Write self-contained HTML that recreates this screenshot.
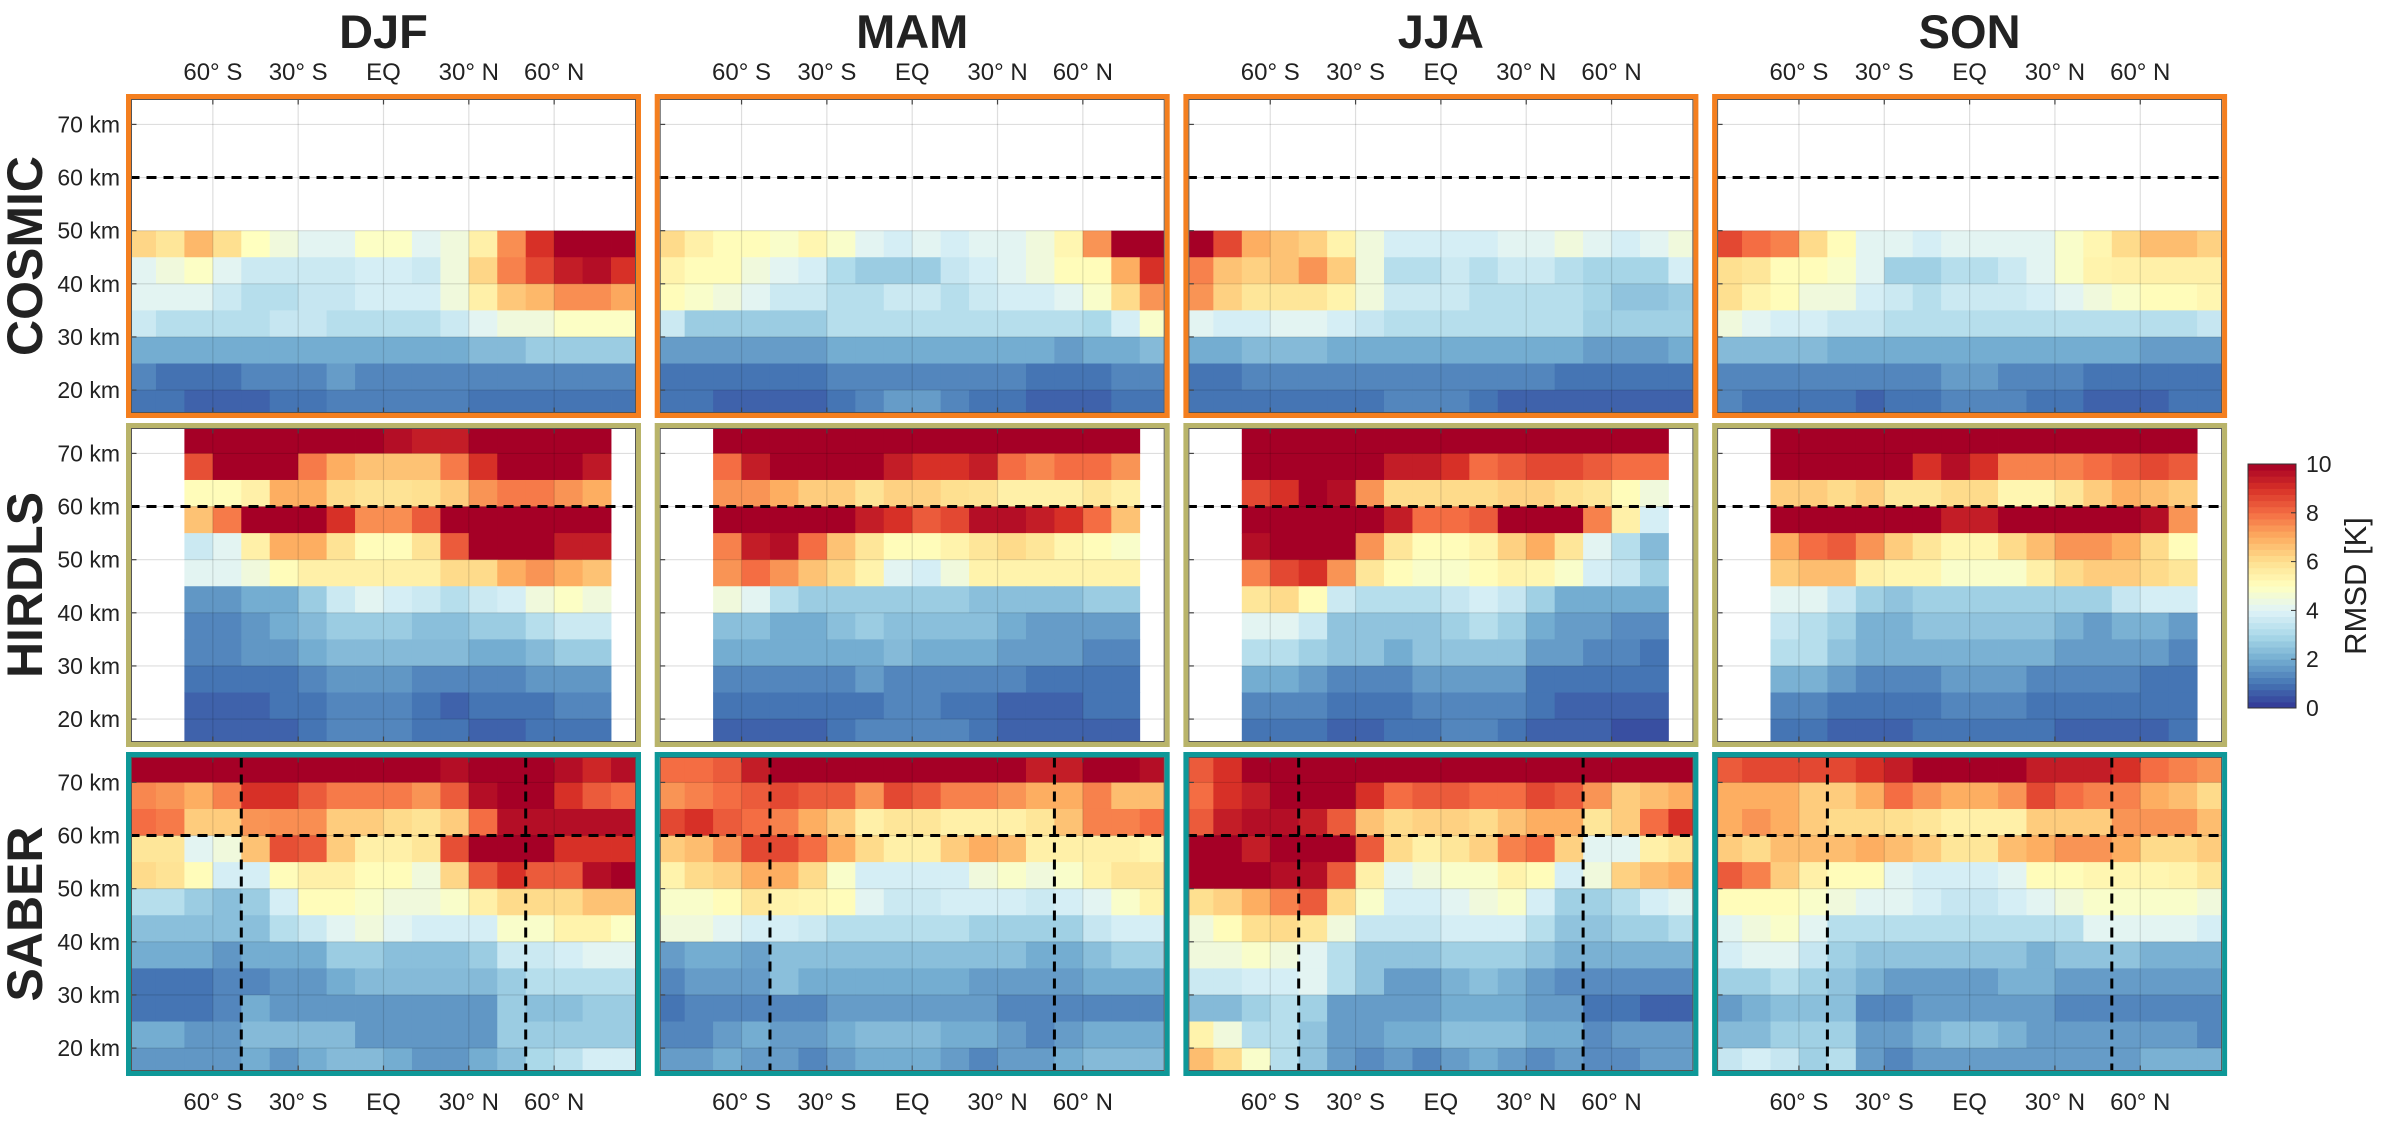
<!DOCTYPE html>
<html><head><meta charset="utf-8"><style>
html,body{margin:0;padding:0;background:#fff;}
svg{display:block;font-family:"Liberation Sans",Arial,sans-serif;}
</style></head><body>
<svg id="fig" width="2386" height="1122" viewBox="0 0 2386 1122" xmlns="http://www.w3.org/2000/svg"></svg>
<script>
const n = null;
const seasons = ["DJF","MAM","JJA","SON"];
const instruments = ["COSMIC","HIRDLS","SABER"];
const latEdges = [-90,-80,-70,-60,-50,-40,-30,-20,-10,0,10,20,30,40,50,60,70,80,90];
const latTicks = [-60,-30,0,30,60];
const latTickLabels = ["60° S","30° S","EQ","30° N","60° N"];
const altTicks = [20,30,40,50,60,70];
const altTickLabels = ["20 km","30 km","40 km","50 km","60 km","70 km"];
const cbTicks = [0,2,4,6,8,10];
const cosmicAltTops = [50,45,40,35,30,25,20];
const fullAltTops = [75,70,65,60,55,50,45,40,35,30,25,20];

const cosmicDJF = [
[6.2,5.8,6.8,6,5,4.5,4.1,4.1,4.9,4.9,4.1,4.5,5.5,7.5,9,10,10,10],
[4.1,4.5,4.9,4.1,3.6,3.6,3.6,3.6,3.8,3.8,3.6,4.5,6.2,7.7,8.6,9.4,9.7,9],
[4.1,4.1,4.1,3.6,3.2,3.2,3.5,3.5,3.8,3.8,3.8,4.5,5.5,6.5,6.8,7.5,7.5,7.1],
[3.6,3.2,3.2,3.2,3.2,3.5,3.5,3.2,3.2,3.2,3.2,3.6,4.1,4.5,4.5,4.9,4.9,4.9],
[2,2,2,2,2,2,2,2,2,2,2,2,2.3,2.3,2.7,2.7,2.7,2.7],
[1.3,0.95,0.95,0.95,1.3,1.3,1.3,1.7,1.3,1.3,1.3,1.3,1.3,1.3,1.3,1.3,1.3,1.3],
[1,1,0.7,0.7,0.7,1,1,1.2,1.2,1.2,1.2,1.2,1,1,1,1,1,1]];
const hirdlsDJF = [
[n,n,10,10,10,10,10,10,10,9.7,9.4,9.4,10,10,10,10,10,n],
[n,n,8.5,10,10,10,7.8,7,6.6,6.6,6.6,7.8,9,10,10,10,9.5,n],
[n,n,5.1,5.1,5.5,7,7,6.1,5.9,5.9,6,6.4,7.4,7.8,7.8,7.4,7,n],
[n,n,6.6,7.8,10,10,10,9,7.5,7.5,8.3,10,10,10,10,10,10,n],
[n,n,3.6,4.1,5.5,7,7,5.9,5.1,5.1,5.9,8.3,10,10,10,9.4,9.4,n],
[n,n,4.1,4.1,4.5,5.1,5.5,5.5,5.5,5.5,5.5,6.1,6.1,7,7.4,7,6.6,n],
[n,n,1.6,1.6,2,2,2.7,3.6,4.1,3.8,3.6,3.2,3.6,3.8,4.5,4.9,4.5,n],
[n,n,1.3,1.3,1.6,2,2.3,2.7,2.7,2.7,2.4,2.4,2.7,2.7,3.2,3.6,3.6,n],
[n,n,1.3,1.3,1.6,1.6,2,2.3,2.3,2.3,2.3,2.3,2,2,2.3,2.7,2.7,n],
[n,n,1,1,1,1,1.3,1.6,1.6,1.6,1.3,1.3,1.3,1.3,1.6,1.6,1.6,n],
[n,n,0.7,0.7,0.7,1,1,1.3,1.3,1.3,1,0.7,1,1,1,1.3,1.3,n],
[n,n,0.7,0.7,0.7,0.7,1,1.3,1.3,1.3,1,1,0.7,0.7,1,1,1,n]];
const saberDJF = [
[10,10,10,10,10,10,10,10,10,10,10,9.7,10,10,10,9.7,9.2,9.7],
[7.6,7.4,7,7.7,9,9,8.3,7.8,7.8,7.8,7.4,8.3,9.7,10,10,9,8.3,8],
[8,7.8,6.4,6.4,7.4,7.5,7.5,6.4,6.4,6.1,5.9,6.4,8,9.7,9.7,9.7,9.7,9.7],
[5.8,5.8,4.1,4.5,6.6,8.5,8.3,6.4,5.5,5.5,5.8,8.5,10,10,10,9,9,9],
[6.1,5.9,5.1,3.8,3.8,5.1,5.5,5.5,5.1,5.1,4.5,6.2,8.3,9,8.3,8.3,9.7,10],
[3.2,3.2,2.7,2.4,2.7,3.8,5.1,5.1,4.8,4.5,4.5,4.8,5.5,6.1,6.1,6.1,6.6,6.6],
[2.4,2.4,2.4,2.4,2.4,3.2,3.6,4.1,4.5,4.1,3.8,3.8,3.8,4.8,4.8,5.4,5.4,4.9],
[2,2,2,1.6,2,2,2,2.7,2.7,2.4,2.4,2.4,2.7,3.6,3.6,3.8,4.1,4.1],
[1,1,1,1.3,1.3,1.6,1.6,2,2.3,2.3,2.3,2.3,2.3,2.7,3.2,3.2,3.2,3.2],
[1,1,1,1.3,2,1.6,1.6,1.6,1.6,1.6,1.6,1.6,1.6,2.7,2.4,2.4,2.7,2.7],
[2,2,1.6,1.6,2.3,2.3,2.3,2.3,1.6,1.6,1.6,1.6,1.6,2.7,2.7,2.7,2.7,2.7],
[1.6,1.6,1.6,1.6,2,1.6,2,2.3,2.3,2,1.6,1.6,2,2.4,3,3.3,3.8,3.8]];

const cosmicMAM = [
[6.1,5.5,5.1,5.1,4.8,5.3,4.8,4.1,3.8,4.1,3.8,4.1,4.1,4.5,5.3,7.4,10,10],
[5.4,5.1,5.1,4.5,4.1,3.8,3.1,2.7,2.7,2.7,3.5,3.8,4.1,4.5,5.1,5.1,7,9],
[5.1,4.8,4.5,4.1,3.6,3.6,3.2,3.2,3.6,3.6,3.2,3.6,3.8,3.8,4.1,4.8,6.1,7.4],
[3.6,2.7,2.7,2.7,2.7,2.7,3.2,3.2,3.2,3.2,3.2,3.2,3.2,3.2,3.2,3,3.8,4.8],
[1.7,1.7,1.7,1.7,1.7,1.7,2,2,2,2,2,2,2,2,1.7,2,2,2.3],
[1,1,1,1,1,1,1.3,1.3,1.3,1.3,1.3,1.3,1.3,1,1,1,1.3,1.3],
[1,1,0.7,0.7,0.7,0.7,1,1.3,1.7,1.7,1.3,1,1,0.7,0.7,0.7,1,1]];
const hirdlsMAM = [
[n,n,10,10,10,10,10,10,10,10,10,10,10,10,10,10,10,n],
[n,n,8,9.4,10,10,10,10,9.4,9,9,9.4,8,7.6,8,8,7.4,n],
[n,n,7.4,7.4,7,6.4,6.4,5.9,6.3,6.3,6,5.9,5.5,5.5,5.5,5.8,5.5,n],
[n,n,10,10,10,10,10,9.4,9,8.3,8.6,9.7,9.7,9.4,9,8,6.6,n],
[n,n,7.7,9.4,9.7,8,6.6,5.8,5.1,5.1,5.4,5.8,6.1,5.8,5.3,5.1,4.8,n],
[n,n,7.4,8,7.4,6.6,6.1,5.4,4.1,3.8,4.5,5.4,5.4,5.4,5.4,5.4,5.4,n],
[n,n,4.5,4.1,3.2,2.7,2.7,2.7,2.7,2.7,2.7,2.4,2.4,2.4,2.4,2.7,2.7,n],
[n,n,2.4,2.4,2,2,2.4,2.7,2.4,2.4,2.4,2.4,2,1.7,1.7,1.7,1.7,n],
[n,n,2,2,2,2,2,2,2.3,2,2,2,1.7,1.7,1.7,1.3,1.3,n],
[n,n,1.3,1.3,1.3,1.3,1.3,1.7,1.3,1.3,1.3,1.3,1.3,1,1,1,1,n],
[n,n,1,1,1,1,1,1,1.3,1.3,1,1,0.7,0.7,0.7,1,1,n],
[n,n,0.7,0.7,0.7,0.7,1,1.3,1.3,1.3,1.3,1,0.7,0.7,0.7,0.7,0.7,n]];
const saberMAM = [
[8,8,8.3,9.4,10,10,10,10,10,10,10,10,10,9.4,9.4,10,10,9.7],
[7.4,7.7,8,8.3,8.6,8.3,8.3,7.4,8.6,8.3,7.7,7.7,7.4,7,7,7.7,6.7,6.7],
[8.6,9,8.3,8,7.7,7,6.4,5.5,5.8,5.8,5.5,5.5,5.5,5.8,6.6,7.7,7.7,8],
[6.4,6.7,7.4,8.6,8.6,8,7,6.1,5.5,5.5,6.4,7,6.7,5.5,5.5,5.5,5.5,5.3],
[5.4,6.1,6.3,7,7,6.1,4.8,3.8,3.8,3.8,3.8,4.5,4.8,4.5,4.8,5.4,5.8,5.8],
[4.8,4.8,5.1,5.8,5.4,5.3,5.1,4.1,3.6,3.6,3.8,3.8,3.8,3.6,3.8,4.1,4.8,5.4],
[4.5,4.5,4.1,3.8,3.8,3.6,3.2,3.2,3.2,3.2,3.2,2.8,2.8,2.8,2.8,3.5,3.8,3.8],
[1.7,2,2,1.8,2.4,2.4,2.4,2.4,2.4,2.4,2.4,2.4,2.4,2,2,2.4,2.8,2.8],
[1.3,1.7,1.7,1.7,2.4,2,2,2,2,2,2,1.7,1.7,1.7,1.7,2,2,2],
[1,1.3,1.3,1.3,1.3,1.3,1.7,1.7,1.7,1.7,1.7,1.7,1.3,1.3,1.3,1.3,1.3,1.3],
[1.3,1.3,1.7,2,1.7,1.7,2,2.3,2.3,2.3,2,2,1.7,1.3,1.7,2,2,2],
[1.7,1.7,2,1.7,1.7,1.3,1.7,2,2,2,1.7,1.3,1.7,1.7,2,2.3,2.3,2.3]];

const cosmicJJA = [
[10,8.6,7,6.6,6.3,5.4,4.5,3.8,3.8,3.8,3.8,4.1,4.1,4.5,4.1,3.8,4.1,4.5],
[7.7,6.6,6.3,6.6,7.4,6.4,4.5,3.2,3.2,3.6,3.2,3.6,3.6,3.2,2.9,2.9,2.9,3.8],
[7.4,6.3,5.8,5.8,5.8,5.4,4.5,3.6,3.6,3.6,3.2,3.2,3.2,3.2,2.9,2.5,2.5,2.7],
[4.1,3.8,3.8,4.1,4.1,3.8,3.5,3.2,3.2,3.2,3.2,3.2,3.2,3.2,2.8,2.8,2.8,2.8],
[2,2,2.3,2.3,2.3,2,2,2,2,2,2,2,2,2,1.7,1.7,1.7,2],
[1,1,1.3,1.3,1.3,1.3,1.3,1.3,1.3,1.3,1.3,1.3,1.3,1,1,1,1,1],
[1,1,1,1,1,1,1,1.3,1.3,1.3,1,0.7,0.7,0.7,0.7,0.7,0.7,0.7]];
const hirdlsJJA = [
[n,n,10,10,10,10,10,10,10,10,10,10,10,10,10,10,10,n],
[n,n,10,10,10,10,10,9.4,9.4,9,8,8.3,8.6,8.6,8.3,8,8,n],
[n,n,8.6,9,10,9.7,7.4,6.1,6.1,6.1,6.1,6.3,6.3,6,5.8,5.1,4.5,n],
[n,n,10,10,10,10,10,9.4,8,8,8.3,10,10,10,7.7,5.5,3.8,n],
[n,n,9.7,10,10,10,7.4,5.8,5.1,5.1,5.4,6.3,7,5.8,4.1,3.2,2.3,n],
[n,n,7.7,8.6,9,7.4,5.8,5.1,4.8,4.8,5.1,5.4,5.3,4.8,3.8,3.5,2.8,n],
[n,n,5.8,6.1,5.1,3.6,3.2,3.2,3.2,3.5,3.8,3.5,2.8,2,2,2,2,n],
[n,n,4.1,4.1,3.6,2.5,2.5,2.5,2.5,2.8,3.2,2.8,2,1.7,1.7,1.4,1.4,n],
[n,n,3.2,3.2,2.8,2.5,2.5,2,2.5,2.5,2.5,2.5,1.7,1.7,1.3,1.3,1,n],
[n,n,2,2,1.7,1.3,1.3,1.3,1.7,1.7,1.7,1.7,1,1,1,1,1,n],
[n,n,1.3,1.3,1.3,1,1,1,1.3,1.3,1.3,1.3,1,0.7,0.7,0.7,0.7,n],
[n,n,1,1,1,0.7,0.7,1,1,1.3,1.3,1,0.7,0.7,0.7,0.4,0.4,n]];
const saberJJA = [
[8.3,9,10,10,10,10,10,10,10,10,10,10,10,10,10,10,10,10],
[8,9,9.4,10,10,10,9,8,8.3,8.3,8,8,8.6,8.3,7.4,6.4,6.7,7],
[8.3,9.4,9.7,9.7,9.4,8.3,6.6,6.1,6.3,6.3,6.1,6.6,7,7,5.8,6.4,8,9],
[10,10,9.4,10,10,10,8.3,6.1,5.5,5.8,6.3,7.7,8,6.3,4.1,4.1,5.5,5.8],
[10,10,10,9.7,9.7,8.3,5.5,4.1,4.5,4.8,4.8,5.4,5.1,3.8,4.5,6.3,6.7,7],
[6,6.3,7,7.7,8.3,6.1,4.8,3.8,3.8,4.1,4.5,4.8,3.8,2.8,2.8,3.2,3.8,4.1],
[4.5,5.1,6,6.1,5.8,4.5,3.5,3.5,3.5,3.8,3.8,3.8,3.2,2.5,2.5,2.8,2.8,3.2],
[4.5,4.5,4.8,4.5,4.1,3.2,2.5,2.5,2.5,2.8,2.8,2.8,2.5,2.1,2.1,2.1,2.1,2.1],
[3.6,3.6,3.8,3.8,4.1,3.2,2.5,1.7,1.7,2.1,2.4,2.1,1.7,1.4,1.4,1.4,1.4,1.4],
[2.3,2.3,2.8,3.2,2.8,1.7,1.7,1.7,1.7,2,2,2,1.7,1.7,1,1,0.7,0.7],
[5.4,4.5,3.2,3.2,2.5,1.7,1.7,2,2,2.4,2.4,2.4,2,2,1.4,1.7,1.7,1.7],
[6.7,6.1,4.8,3.2,2.5,1.7,1.4,1.7,1.3,1.7,2,1.7,1.4,1.7,1.4,1.4,1.7,1.7]];

const cosmicSON = [
[8.6,8,7.7,6.1,5.1,4.1,4.1,3.8,4.1,4.1,4.1,4.1,4.8,5.3,6.1,6.7,6.7,6.3],
[6,5.8,5.1,5.1,4.8,4.1,2.8,2.8,3.2,3.2,3.6,4.1,4.8,5.4,5.5,5.5,5.5,5.5],
[6,5.4,5.1,4.5,4.5,3.8,3.6,3.2,3.6,3.6,3.6,3.8,4.1,4.5,4.8,5.1,5.1,5.3],
[4.5,4.1,3.8,3.8,3.5,3.5,3.2,3.2,3.2,3.2,3.2,3.2,3.2,3.2,3.2,3.2,3.2,3.5],
[2.3,2.3,2.3,2.3,2,2,2,2,2,2,2,2,2,2,2,1.7,1.7,1.7],
[1.3,1.3,1.3,1.3,1.3,1.3,1.3,1.3,1.7,1.7,1.3,1.3,1.3,1,1,1,1,1],
[1.3,1,1,1,1,0.7,1,1,1.3,1.3,1.3,1,1,0.7,0.7,0.7,1,1]];
const hirdlsSON = [
[n,n,10,10,10,10,10,10,10,10,10,10,10,10,10,10,10,n],
[n,n,10,10,10,10,10,9,9.7,9,7.7,7.7,7.7,8,8.3,8.6,8.3,n],
[n,n,6.4,6.4,6.1,6.4,5.8,5.8,6.1,6.1,5.3,5.3,5.8,6.4,7,6.7,6.4,n],
[n,n,10,10,10,10,10,10,9.4,9.4,10,10,10,10,10,9.7,7.4,n],
[n,n,7,8,8.3,7.4,6.4,5.8,5.3,5.3,6.1,6.7,7.4,7.4,7,6.1,5.1,n],
[n,n,6.4,6.7,6.7,5.5,5.3,5.3,4.8,4.8,4.8,5.5,6.1,6.4,6.4,6.1,5.8,n],
[n,n,4.1,4.1,3.5,2.8,2.5,2.8,2.8,2.8,2.8,2.8,2.8,2.8,3.5,3.8,3.8,n],
[n,n,3.5,3.2,2.8,2.1,2.1,2.5,2.5,2.5,2.5,2.5,2.1,1.7,2.1,2.1,1.7,n],
[n,n,3.2,3.2,2.5,2.1,2.1,2.1,2.1,2.1,2.1,2.1,1.7,1.7,1.7,1.7,1.3,n],
[n,n,2.1,2.1,1.7,1.3,1.3,1.3,1.7,1.7,1.7,1.3,1.3,1.3,1.3,1,1,n],
[n,n,1.3,1.3,1,1,1,1,1.3,1.3,1.3,1,1,1,1,1,1,n],
[n,n,1,1,0.7,0.7,0.7,1,1,1,1,1,0.7,0.7,0.7,0.7,1,n]];
const saberSON = [
[8.3,8.6,8.6,8.6,8.6,9,9.4,10,10,10,10,9.4,9.4,9.4,9,8,7.7,7.4],
[7,7,7,6.4,6.4,7,8,7.4,7,7,7.4,8.6,8,7.7,7.7,7,6.7,6.1],
[7,7.4,7,6.4,6.1,6.1,6,5.8,5.5,5.5,5.5,6.4,6.4,6.4,7.4,7.4,7.4,6.7],
[6.4,6.1,6.7,6.7,6.7,7,6.7,6.4,5.8,5.8,6.7,7,7.4,7.4,7,6.1,6.1,6.4],
[8.3,7.7,6.4,5.5,5.1,5.1,4.1,3.8,3.8,3.8,4.1,5.1,5.1,5.3,5.3,5.3,5.4,5.8],
[5.1,5.1,5.1,4.8,4.5,4.1,4.1,3.8,3.5,3.5,3.8,4.1,4.5,4.8,4.8,4.8,4.8,4.5],
[4.1,4.5,4.8,4.1,3.2,3.2,3.2,3.2,3.2,3.2,3.2,3.2,3.2,4.1,4.1,4.1,4.1,3.8],
[3.8,4.1,4.1,3.5,2.8,2.5,2.5,2.5,2.5,2.5,2.5,2.1,2.5,2.5,2.5,2.1,2.1,2.1],
[2.8,2.8,3.2,2.8,2.5,2.1,1.7,1.7,1.7,1.7,2.1,2.1,1.7,1.7,1.7,1.7,1.7,1.7],
[1.7,2.1,2.4,2.4,2.4,1.3,1.3,1.7,1.7,1.7,1.7,1.7,1.3,1.3,1.3,1.3,1.3,1.3],
[2.3,2.3,2.8,2.8,2.8,1.7,1.7,2.1,2.4,2.4,2.1,1.7,1.7,1.7,1.7,1.7,1.7,1.3],
[3.5,3.8,3.5,2.8,3.2,1.7,1.3,1.7,1.7,1.7,1.7,1.7,1.7,1.7,1.7,2.1,2.1,2.1]];

const saberLatLines = [-50,50];
const refAltitude = 60;

const panelGrid = [
  [cosmicDJF,cosmicMAM,cosmicJJA,cosmicSON],
  [hirdlsDJF,hirdlsMAM,hirdlsJJA,hirdlsSON],
  [saberDJF,saberMAM,saberJJA,saberSON]];
const altTopsByRow = [cosmicAltTops, fullAltTops, fullAltTops];
const frameColors = ["#f47f1f","#b9b46a","#0e9898"];

// layout
const svg = document.getElementById('fig');
const NS = "http://www.w3.org/2000/svg";
function mk(tag, attrs, parent){ const e=document.createElementNS(NS,tag); for(const k in attrs) e.setAttribute(k,attrs[k]); (parent||svg).appendChild(e); return e; }
const FRAME_X0 = 126, FRAME_DX = 528.7, FRAME_W = 515, FRAME_H = 324;
const FRAME_Y = [94, 423, 752];
const INSET = 5.5;
const LAT_MIN = -88.6, LAT_MAX = 88.6, ALT_MIN = 15.78, ALT_MAX = 74.69;

const stops = ["#313695","#4575b4","#74add1","#abd9e9","#e0f3f8","#ffffbf","#fee090","#fdae61","#f46d43","#d73027","#a50026"];
function hex(h){return [parseInt(h.slice(1,3),16),parseInt(h.slice(3,5),16),parseInt(h.slice(5,7),16)];}
const stopRGB = stops.map(hex);
function cmap(v){
  let t = Math.max(0, Math.min(10, v));
  let i = Math.min(9, Math.floor(t)); let f = t - i;
  const a = stopRGB[i], b = stopRGB[i+1];
  const c = a.map((x,k)=>Math.round(x+(b[k]-x)*f));
  return `rgb(${c[0]},${c[1]},${c[2]})`;
}

for (let r=0;r<3;r++){
  for (let c=0;c<4;c++){
    const fx = FRAME_X0 + c*FRAME_DX, fy = FRAME_Y[r];
    const ix = fx+INSET, iy = fy+INSET, iw = FRAME_W-2*INSET, ih = FRAME_H-2*INSET;
    const xs = lat => ix + (lat-LAT_MIN)/(LAT_MAX-LAT_MIN)*iw;
    const ys = alt => iy + (ALT_MAX-alt)/(ALT_MAX-ALT_MIN)*ih;
    const g = mk('g',{});
    
    
    mk('rect',{x:ix,y:iy,width:iw,height:ih,fill:'#fff'},g);
    const clipId = `clip${r}${c}`;
    const cp = mk('clipPath',{id:clipId},g); mk('rect',{x:ix,y:iy,width:iw,height:ih},cp);
    const cells = mk('g',{'clip-path':`url(#${clipId})`},g);
    const data = panelGrid[r][c], tops = altTopsByRow[r];
    for (let j=0;j<data.length;j++){
      for (let i=0;i<data[j].length;i++){
        const v = data[j][i]; if (v===null) continue;
        const x0 = xs(latEdges[i]), x1 = xs(latEdges[i+1]);
        const y0 = ys(tops[j]), y1 = ys(tops[j]-5);
        const cell = mk('rect',{x:x0.toFixed(2),y:y0.toFixed(2),width:(x1-x0+0.4).toFixed(2),height:(y1-y0+0.4).toFixed(2),fill:cmap(v)},cells);
        
        
      }
    }
    // grid
    latTicks.forEach(l=>{ const x=xs(l); const gl=mk('line',{x1:x,x2:x,y1:iy,y2:iy+ih,stroke:'rgba(0,0,0,0.13)','stroke-width':1.2},g);
       
      mk('line',{x1:x,x2:x,y1:iy,y2:iy+5,stroke:'#444','stroke-width':1.2},g);
      mk('line',{x1:x,x2:x,y1:iy+ih-5,y2:iy+ih,stroke:'#444','stroke-width':1.2},g); });
    altTicks.forEach(a=>{ const y=ys(a); const gl=mk('line',{x1:ix,x2:ix+iw,y1:y,y2:y,stroke:'rgba(0,0,0,0.13)','stroke-width':1.2},g);
       
      mk('line',{x1:ix,x2:ix+5,y1:y,y2:y,stroke:'#444','stroke-width':1.2},g); });
    // ref lines
    const yr = ys(refAltitude);
    const hl = mk('line',{x1:ix-2,x2:ix+iw,y1:yr,y2:yr,stroke:'#000','stroke-width':3,'stroke-dasharray':'10 7'},g);
     
    if (r===2){
      saberLatLines.forEach(l=>{ const x=xs(l);
        const vl = mk('line',{x1:x,x2:x,y1:iy,y2:iy+ih,stroke:'#000','stroke-width':3,'stroke-dasharray':'10 7'},g);
          });
    }
    mk('rect',{x:ix,y:iy,width:iw,height:ih,fill:'none',stroke:'#555','stroke-width':1},g);
    const fr = mk('rect',{x:fx+2.5,y:fy+2.5,width:FRAME_W-5,height:FRAME_H-5,fill:'none',stroke:frameColors[r],'stroke-width':5},g);
     
    // tick labels
    if (r===0 || r===2){
      const ty = r===0 ? 80 : 1110;
      latTicks.forEach((l,k)=>{ const t=mk('text',{x:xs(l),y:ty,'text-anchor':'middle','font-size':24,fill:'#222'},g);
        t.textContent = latTickLabels[k];
          });
    }
    if (c===0){
      altTicks.forEach((a,k)=>{ const t=mk('text',{x:120,y:ys(a)+8,'text-anchor':'end','font-size':23,fill:'#222'},g);
        t.textContent = altTickLabels[k];
          });
      const cy = fy+FRAME_H/2;
      const rl = mk('text',{x:0,y:0,transform:`translate(42,${cy}) rotate(-90)`,'text-anchor':'middle','font-size':50,'font-weight':'bold',fill:'#222'},g);
      rl.textContent = instruments[r];
       
    }
    if (r===0){
      const st = mk('text',{x:fx+FRAME_W/2,y:48,'text-anchor':'middle','font-size':47,'font-weight':'bold',fill:'#222'},g);
      st.textContent = seasons[c];
       
    }
  }
}

// colorbar
const CB_X=2248, CB_Y=464, CB_W=48, CB_H=244, CB_LEVELS=40;
const cb = mk('g',{});
 
for (let k=0;k<CB_LEVELS;k++){
  const v = (k+0.5)*10/CB_LEVELS;
  const y = CB_Y + CB_H - (k+1)*CB_H/CB_LEVELS;
  mk('rect',{x:CB_X,y:y.toFixed(2),width:CB_W,height:(CB_H/CB_LEVELS+0.5).toFixed(2),fill:cmap(v)},cb);
}
mk('rect',{x:CB_X,y:CB_Y,width:CB_W,height:CB_H,fill:'none',stroke:'#333','stroke-width':1},cb);
cbTicks.forEach(t=>{ const y = CB_Y + CB_H - t/10*CB_H;
  mk('line',{x1:CB_X+CB_W-5,x2:CB_X+CB_W,y1:y,y2:y,stroke:'#333','stroke-width':1},cb);
  const tl = mk('text',{x:CB_X+CB_W+10,y:y+8,'font-size':23,fill:'#222'},cb);
  tl.textContent = String(t);
    });
const cbl = mk('text',{x:0,y:0,transform:`translate(2366,${CB_Y+CB_H/2}) rotate(-90)`,'text-anchor':'middle','font-size':31,fill:'#222'},cb);
cbl.textContent = 'RMSD [K]';
 
</script>
</body></html>
